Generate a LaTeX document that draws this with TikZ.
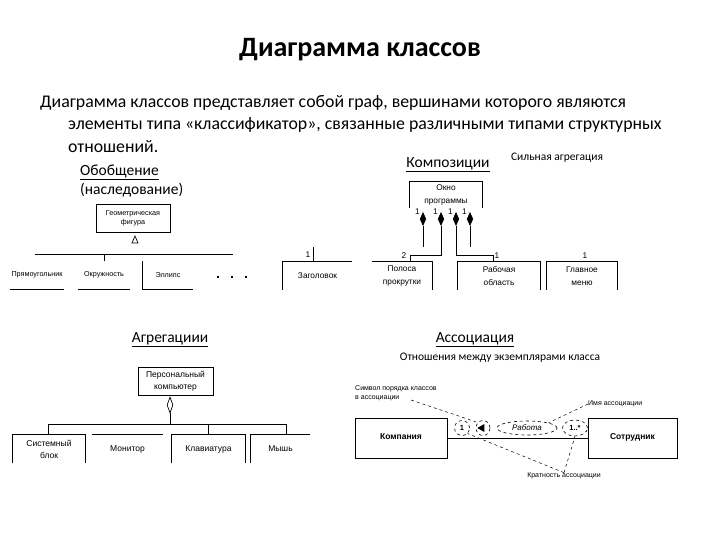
\documentclass[tikz,border=0pt]{standalone}
\usepackage{fontspec}
\setmainfont{Carlito}
\newfontfamily\arialf{Liberation Sans}
\usetikzlibrary{shapes.geometric}
\begin{document}
\begin{tikzpicture}[x=1pt,y=-1pt,
  ln/.style={line width=0.8pt},
  frame/.style={inner sep=0pt, align=center},
  genf/.style={frame, font=\arialf\fontsize{7.2}{8.6}\selectfont},
  compf/.style={frame, font=\arialf\fontsize{8.3}{12.5}\selectfont},
  aggf/.style={frame, font=\arialf\fontsize{8.5}{12}\selectfont},
  asf/.style={frame, font=\arialf\fontsize{7}{9.5}\selectfont},
  heading/.style={inner sep=0pt, font=\fontsize{15.5}{18}\selectfont},
  note/.style={inner sep=0pt, font=\fontsize{11.5}{13}\selectfont},
  para/.style={anchor=west, inner sep=0pt, font=\fontsize{17.8}{21}\selectfont},
  fdiam/.style={diamond, fill=black, draw, inner sep=0pt, minimum width=6pt, minimum height=13pt},
  dcirc/.style={draw, dashed, ellipse, inner sep=0pt, line width=0.6pt},
  leader/.style={dashed, line width=0.5pt}
]
\useasboundingbox (0,0) rectangle (720,540);

% Title and text
\node[inner sep=0pt, font=\bfseries\fontsize{28}{32}\selectfont] (title) at (360,50) {Диаграмма классов};
\node[para] (p1) at (40,103) {Диаграмма классов представляет собой граф, вершинами которого являются};
\node[para] (p2) at (68,125) {элементы типа «классификатор», связанные различными типами структурных};
\node[para] (p3) at (68,147) {отношений.};

% ---------- Generalization ----------
\node[heading, anchor=west] (hgen1) at (80,172) {\underline{Обобщение}};
\node[heading, anchor=west] (hgen2) at (80,190) {(наследование)};
\node[genf, draw, ln, minimum width=74pt, minimum height=28pt] (geo) at (133,218) {Геометрическая\\фигура};
\node[isosceles triangle, shape border rotate=90, isosceles triangle stretches, draw, line width=0.7pt,
      inner sep=0pt, minimum height=7pt, minimum width=6pt] (tri) at (135,241) {};
\coordinate (gl) at (35,254);
\coordinate (gr) at (233,254);
\draw[ln] (gl) -- (gr);
\node[genf, minimum width=53pt, minimum height=28pt] (rect) at (37,275) {Прямоугольник};
\node[genf, minimum width=52pt, minimum height=28pt] (okr) at (104,275) {Окружность};
\node[genf, minimum width=50pt, minimum height=28pt] (ell) at (168,275) {Эллипс};
\draw[ln] (rect.south west) -- (rect.south east);
\draw[ln] (okr.south west) -- (okr.south east);
\draw[ln] (ell.north west) -- (ell.south west) -- (ell.south east);
\draw[ln] (okr.north) -- (okr.north |- gl);
\foreach \i/\x in {1/218,2/232,3/246}{
  \node[fill=black, inner sep=0pt, minimum size=2.6pt] (dot\i) at (\x,277) {};
}

% ---------- Composition ----------
\node[heading] (hcomp) at (448,165) {\underline{Композиции}};
\node[note] (strong) at (557,158) {Сильная агрегация};
\node[compf, minimum width=72pt, minimum height=26pt] (okno) at (446,195) {Окно\\программы};
\draw[ln] (okno.south west) -- (okno.north west) -- (okno.north east) -- (okno.south east);
\foreach \i/\x in {1/423,2/441,3/456,4/470}{
  \node[fdiam] (d\i) at (\x,219) {};
  \node[compf, anchor=east] (one\i) at (\x-3,212) {1};
}
\node[compf, minimum width=69pt, minimum height=28pt] (zag) at (317.5,276) {Заголовок};
\node[compf, minimum width=60pt, minimum height=28pt] (pol) at (402,276) {Полоса\\прокрутки};
\node[compf, minimum width=82pt, minimum height=28pt] (rab) at (499,276) {Рабочая\\область};
\node[compf, minimum width=70pt, minimum height=28pt] (glav) at (582,276) {Главное\\меню};
\draw[ln] (zag.south west) -- (zag.north west) -- (zag.north east);
\draw[ln] (pol.north west) -- (pol.north east) -- (pol.south east);
\draw[ln] (rab.south west) -- (rab.north west) -- (rab.north east) -- (rab.south east);
\draw[ln] (glav.south west) -- (glav.north west) -- (glav.north east) -- (glav.south east);
\coordinate (f1) at (423,247);
\coordinate (f4) at (470,247);
\coordinate (pc) at (410,262);
\coordinate (rc) at (493,262);
\draw[ln] (d1.south) -- (f1);
\draw[ln] (d4.south) -- (f4);
\draw[ln] (d2.south) |- ([yshift=7pt]pc) -- (pc);
\draw[ln] (d3.south) |- ([yshift=7pt]rc) -- (rc);
\draw[ln] (zag.north -| 313,0) -- ++(0,-15);
\node[compf] (mz) at (308,255) {1};
\node[compf] (mp) at (404,256) {2};
\node[compf] (mr) at (497,256) {1};
\node[compf] (mg) at (585,256) {1};

% ---------- Aggregation ----------
\node[heading] (hagg) at (170,340) {\underline{Агрегациии}};
\node[aggf, draw, ln, minimum width=75pt, minimum height=28pt] (pk) at (175.5,381) {Персональный\\компьютер};
\node[diamond, draw, line width=0.7pt, inner sep=0pt, minimum width=6pt, minimum height=16pt] (hd) at (170,405) {};
\node[aggf, minimum width=72pt, minimum height=28pt] (sys) at (49,449) {Системный\\блок};
\node[aggf, minimum width=71pt, minimum height=28pt] (mon) at (127.5,449) {Монитор};
\node[aggf, minimum width=73pt, minimum height=28pt] (kl) at (208.5,449) {Клавиатура};
\node[aggf, minimum width=59pt, minimum height=28pt] (mysh) at (280.5,449) {Мышь};
\draw[ln] (sys.south west) -- (sys.north west) -- (sys.north east) -- (sys.south east);
\draw[ln] (mon.north west) -- (mon.north east);
\draw[ln] (kl.south west) -- (kl.north west) -- (kl.north east) -- (kl.south east);
\draw[ln] (mysh.south west) -- (mysh.north west) -- (mysh.north east);
\coordinate (bl) at (48,424);
\coordinate (br) at (286,424);
\draw[ln] (bl) -- (br);
\draw[ln] (hd.south) -- (hd.south |- bl);
\draw[ln] (bl) -- (bl |- sys.north);
\draw[ln] (kl.north |- bl) -- (kl.north);
\draw[ln] (br) -- (br |- mysh.north);

% ---------- Association ----------
\node[heading] (hass) at (475,340) {\underline{Ассоциация}};
\node[note] (rel) at (500,358) {Отношения между экземплярами класса};
\node[draw, ln, minimum width=92pt, minimum height=40pt, inner sep=0pt,
      font=\arialf\bfseries\fontsize{8.5}{10}\selectfont] (komp) at (401,438) {\raisebox{2.5pt}{Компания}};
\node[draw, ln, minimum width=89pt, minimum height=40pt, inner sep=0pt,
      font=\arialf\bfseries\fontsize{8.5}{10}\selectfont] (sotr) at (632.5,438) {\raisebox{2.5pt}{Сотрудник}};
\draw[ln] (komp) -- (sotr);
\node[dcirc, minimum width=15pt, minimum height=15pt, font=\arialf\bfseries\fontsize{7.5}{9}\selectfont] (c1) at (462,428) {1};
\node[dcirc, minimum width=14pt, minimum height=15pt] (ct) at (483,428) {};
\node[isosceles triangle, fill=black, inner sep=0pt, minimum height=7pt, minimum width=8pt,
      isosceles triangle stretches, shape border rotate=180] (ctri) at (482,428) {};
\node[dcirc, minimum width=60pt, minimum height=14pt, font=\arialf\itshape\fontsize{8}{9}\selectfont] (rabota) at (527,428) {Работа};
\node[dcirc, minimum width=25pt, minimum height=16pt, font=\arialf\bfseries\fontsize{7.5}{9}\selectfont] (cm) at (575,428) {1..*};
\node[asf, anchor=north west, align=left] (simv) at (355,385) {Символ порядка классов\\в ассоциации};
\node[asf, anchor=west] (imya) at (588,404) {Имя ассоциации};
\node[asf] (krat) at (564,476) {Кратность ассоциации};
\coordinate (sv) at (411,400);
\draw[leader] (sv) -- (ct.north west);
\draw[leader] (imya.west) -- (rabota.north east);
\draw[leader] (krat.north) -- (c1.south east);
\draw[leader] (krat.north) -- (cm.south);
\end{tikzpicture}
\end{document}
